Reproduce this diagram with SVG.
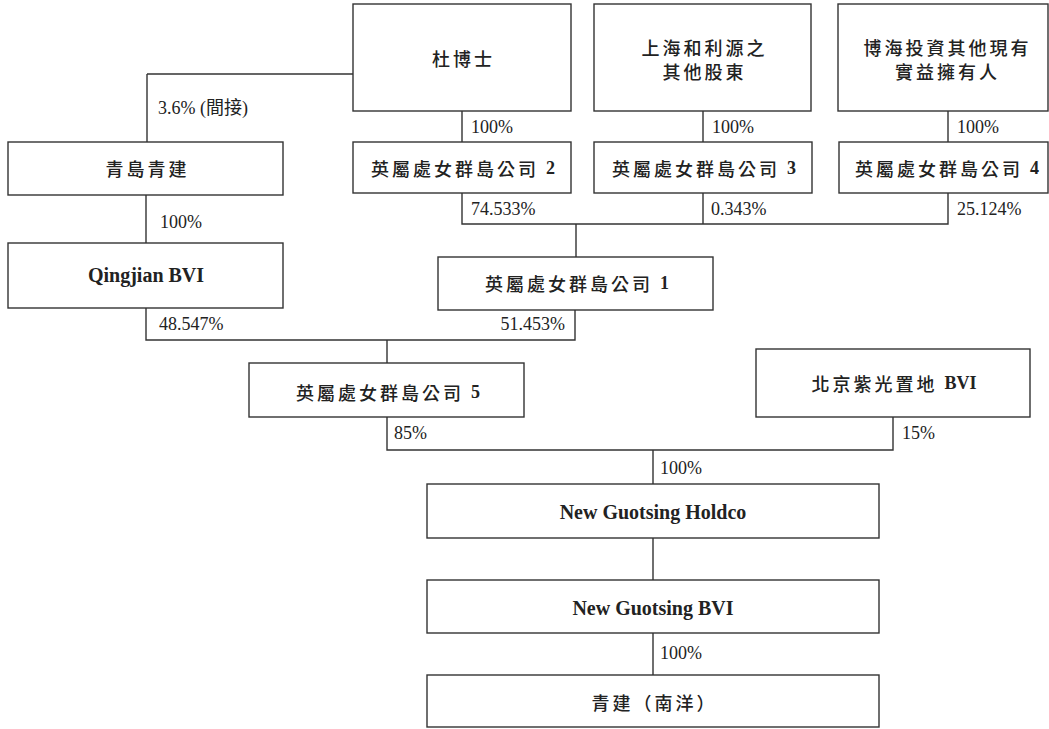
<svg xmlns="http://www.w3.org/2000/svg" width="1049" height="729" viewBox="0 0 1049 729">
<style>
.box{fill:#fff;stroke:#333;stroke-width:1.4}
.ln{fill:none;stroke:#333;stroke-width:1.4}
.cjk{font-family:"Noto Sans CJK TC","Noto Sans CJK SC",sans-serif;font-size:18px;font-weight:500;fill:#222;letter-spacing:3px;text-anchor:middle;dominant-baseline:central}
.num{font-family:"Liberation Serif",serif;font-weight:bold;letter-spacing:0}
.lat{font-family:"Liberation Serif",serif;font-size:20px;font-weight:bold;fill:#222;text-anchor:middle;dominant-baseline:central}
.pct{font-family:"Liberation Serif","Noto Sans CJK TC",serif;font-size:18px;fill:#222;dominant-baseline:central}
</style>
<rect width="1049" height="729" fill="#fff"/>
<g id="connectors">
<path class="ln" d="M147 74H353M147 74V142"/>
<path class="ln" d="M462 111V142M703 111V142M948 111V142"/>
<path class="ln" d="M462 193V224H948V193M703 193V224M576 224V257"/>
<path class="ln" d="M146 195V243"/>
<path class="ln" d="M146 308V340H575V310M387 340V363"/>
<path class="ln" d="M387 417V450H893V417M653 450V484"/>
<path class="ln" d="M653 538V580M653 633V675"/>
<text class="pct" x="158" y="108">3.6% (間接)</text>
<text class="pct" x="471" y="127">100%</text>
<text class="pct" x="712" y="127">100%</text>
<text class="pct" x="957" y="127">100%</text>
<text class="pct" x="471" y="209">74.533%</text>
<text class="pct" x="711" y="209">0.343%</text>
<text class="pct" x="957" y="209">25.124%</text>
<text class="pct" x="160" y="222">100%</text>
<text class="pct" x="159" y="324">48.547%</text>
<text class="pct" x="565" y="324" text-anchor="end">51.453%</text>
<text class="pct" x="394" y="433">85%</text>
<text class="pct" x="902" y="433">15%</text>
<text class="pct" x="660" y="468">100%</text>
<text class="pct" x="660" y="653">100%</text>
</g>
<g id="n_du">
<rect class="box" x="353" y="4" width="218" height="107"/>
<text class="cjk" x="463.5" y="58">杜博士</text>
</g>
<g id="n_shanghai">
<rect class="box" x="594" y="4" width="217" height="107"/>
<text class="cjk" x="704.5" y="47">上海和利源之</text>
<text class="cjk" x="704.5" y="71">其他股東</text>
</g>
<g id="n_bohai">
<rect class="box" x="838" y="4" width="210" height="107"/>
<text class="cjk" x="947.5" y="47">博海投資其他現有</text>
<text class="cjk" x="947.5" y="71">實益擁有人</text>
</g>
<g id="n_bvi2">
<rect class="box" x="353" y="142" width="218" height="51"/>
<text class="cjk" x="463" y="168">英屬處女群島公司 <tspan class="num">2</tspan></text>
</g>
<g id="n_bvi3">
<rect class="box" x="594" y="142" width="218" height="51"/>
<text class="cjk" x="704" y="168">英屬處女群島公司 <tspan class="num">3</tspan></text>
</g>
<g id="n_bvi4">
<rect class="box" x="839" y="142" width="209" height="51"/>
<text class="cjk" x="947" y="168">英屬處女群島公司 <tspan class="num">4</tspan></text>
</g>
<g id="n_qdqj">
<rect class="box" x="8" y="142" width="275" height="53"/>
<text class="cjk" x="147.5" y="168">青島青建</text>
</g>
<g id="n_qjbvi">
<rect class="box" x="8" y="243" width="275" height="65"/>
<text class="lat" x="146" y="275">Qingjian BVI</text>
</g>
<g id="n_bvi1">
<rect class="box" x="438" y="257" width="275" height="53"/>
<text class="cjk" x="577" y="283">英屬處女群島公司 <tspan class="num">1</tspan></text>
</g>
<g id="n_bvi5">
<rect class="box" x="249" y="363" width="275" height="54"/>
<text class="cjk" x="388" y="392">英屬處女群島公司 <tspan class="num">5</tspan></text>
</g>
<g id="n_beijing">
<rect class="box" x="756" y="349" width="274" height="68"/>
<text class="cjk" x="894" y="383">北京紫光置地 <tspan class="num">BVI</tspan></text>
</g>
<g id="n_holdco">
<rect class="box" x="427" y="484" width="452" height="54"/>
<text class="lat" x="653" y="512">New Guotsing Holdco</text>
</g>
<g id="n_ngbvi">
<rect class="box" x="427" y="580" width="452" height="53"/>
<text class="lat" x="653" y="608">New Guotsing BVI</text>
</g>
<g id="n_nanyang">
<rect class="box" x="427" y="675" width="452" height="52"/>
<text class="cjk" x="654.5" y="702">青建（南洋）</text>
</g>
</svg>
